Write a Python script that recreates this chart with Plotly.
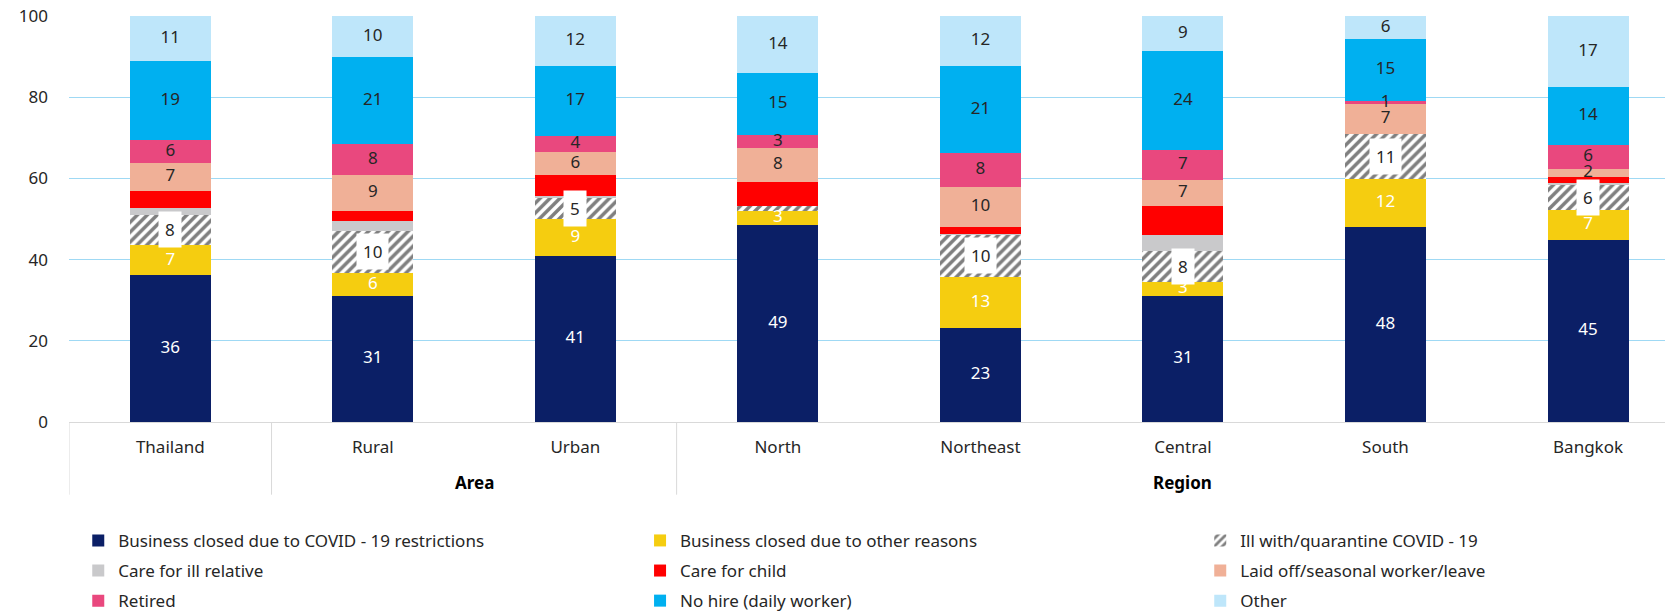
import plotly.graph_objects as go

categories = ["Thailand", "Rural", "Urban", "North", "Northeast", "Central", "South", "Bangkok"]
groups = ["", "Area", "Area", "Region", "Region", "Region", "Region", "Region"]

biz_covid   = [36.1, 31.0, 40.8, 48.6, 23.1, 31.0, 48.0, 44.9]
biz_other   = [7.4, 5.8, 9.1, 3.4, 12.6, 3.4, 11.8, 7.3]
ill_covid   = [7.6, 10.3, 5.3, 1.1, 10.4, 7.7, 11.2, 6.2]
care_ill    = [1.7, 2.5, 0.4, 0.0, 0.3, 4.0, 0.0, 0.5]
care_child  = [4.0, 2.4, 5.2, 6.0, 1.6, 7.0, 0.0, 1.5]
laid_off    = [7.0, 8.8, 5.6, 8.4, 9.9, 6.6, 7.4, 2.0]
retired     = [5.7, 7.7, 4.1, 3.2, 8.3, 7.4, 0.7, 5.8]
no_hire     = [19.4, 21.4, 17.2, 15.2, 21.4, 24.2, 15.3, 14.4]
other       = [11.1, 10.1, 12.3, 14.1, 12.4, 8.7, 5.6, 17.4]

series = [
    ("Business closed due to COVID - 19 restrictions", biz_covid, "#0b1f66", "white", True),
    ("Business closed due to other reasons", biz_other, "#f5cd10", "white", True),
    ("Ill with/quarantine COVID - 19", ill_covid, "white", "#262626", False),
    ("Care for ill relative", care_ill, "#c9c9cb", "#262626", False),
    ("Care for child", care_child, "#ff0000", "#262626", False),
    ("Laid off/seasonal worker/leave", laid_off, "#f0b097", "#262626", True),
    ("Retired", retired, "#e9487e", "#262626", True),
    ("No hire (daily worker)", no_hire, "#00b0f0", "#262626", True),
    ("Other", other, "#bee6fa", "#262626", True),
]

FONT = "Noto Sans"
TXT = "#262626"
legend_ids = ["legend", "legend2", "legend3"]
fig = go.Figure()

base = [0.0] * len(categories)
label_layers = []
for k, (name, vals, color, tcolor, show) in enumerate(series):
    marker = dict(color=color, line=dict(width=0))
    if name.startswith("Ill"):
        marker = dict(color="white", line=dict(width=0),
                      pattern=dict(shape="/", fgcolor="#000000", bgcolor="white",
                                   size=7, solidity=0.5))
    fig.add_trace(go.Bar(
        x=categories, y=vals, name=name, marker=marker,
        legend=legend_ids[k % 3], legendgroup=f"g{k}",
        hoverinfo="skip",
    ))
    mids = [b + v / 2 for b, v in zip(base, vals)]
    if show:
        label_layers.append((categories, mids, [f"{round(v):d}" if v > 0 else "" for v in vals], tcolor))
    if name.startswith("Ill"):
        for i, v in enumerate(vals):
            if v >= 2:
                fig.add_annotation(x=categories[i], y=mids[i], xref="x", yref="y",
                                   text=f"{round(v):d}", showarrow=False,
                                   bgcolor="white", borderpad=6,
                                   font=dict(size=17, color=TXT, family=FONT))
    base = [b + v for b, v in zip(base, vals)]

# value labels drawn above all bars
for xs, ys, texts, tcolor in label_layers:
    fig.add_trace(go.Scatter(
        x=xs, y=ys, text=texts, mode="text", textposition="middle center",
        textfont=dict(size=17, color=tcolor, family=FONT),
        showlegend=False, hoverinfo="skip", cliponaxis=False,
    ))

# group labels and dividers derived from the group list
bounds = [-0.5]
for i in range(1, len(groups)):
    if groups[i] != groups[i - 1]:
        bounds.append(i - 0.5)
for b in bounds:
    fig.add_shape(type="line", xref="x", yref="paper", x0=b, x1=b, y0=0, y1=-0.179,
                  line=dict(color="#d9d9d9", width=1))
seen = []
for g in groups:
    if g and g not in seen:
        seen.append(g)
for g in seen:
    idx = [i for i, gg in enumerate(groups) if gg == g]
    fig.add_annotation(x=sum(idx) / len(idx), y=-0.149, xref="x", yref="paper",
                       text=f"<b>{g}</b>", showarrow=False, yanchor="middle",
                       font=dict(size=17, color="black", family=FONT))

leg_common = dict(orientation="v", yref="container", y=0.147, yanchor="top",
                  xanchor="left", font=dict(size=17, family=FONT, color=TXT),
                  tracegroupgap=5, traceorder="grouped", itemclick=False,
                  bgcolor="rgba(0,0,0,0)")
fig.update_layout(
    barmode="stack",
    bargap=0.6,
    width=1665, height=613,
    margin=dict(l=69, r=0, t=16, b=191),
    paper_bgcolor="white", plot_bgcolor="white",
    font=dict(family=FONT, size=17, color=TXT),
    showlegend=True,
    legend=dict(x=0.0058, **leg_common),
    legend2=dict(x=0.3578, **leg_common),
    legend3=dict(x=0.7088, **leg_common),
)
fig.update_xaxes(
    type="category",
    range=[-0.5, 7.38],
    showline=True, linecolor="#d9d9d9", linewidth=1,
    tickfont=dict(size=17, family=FONT, color=TXT),
    ticks="outside", ticklen=10, tickcolor="rgba(0,0,0,0)",
)
fig.update_yaxes(
    range=[0, 100], dtick=20,
    showgrid=True, gridcolor="#9fd9f4", gridwidth=1,
    zeroline=False, showline=False,
    tickfont=dict(size=17, family=FONT, color=TXT),
    ticklabelstandoff=20,
)

fig.write_html("out.html", config={"displayModeBar": False},
               post_script="document.body.style.margin='0px';")
